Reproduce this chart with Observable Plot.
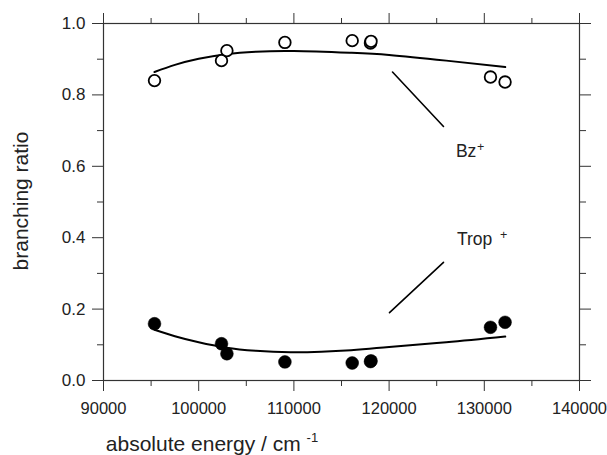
<!DOCTYPE html>
<html><head><meta charset="utf-8">
<script src="https://cdn.jsdelivr.net/npm/d3@7"></script>
<script src="https://cdn.jsdelivr.net/npm/@observablehq/plot@0.6"></script>
<style>
body{margin:0;background:#fff}
#chart svg{display:block}
</style>
</head><body><div id="chart"></div>
<script>
// measured points
const energy    = [95357, 102395, 102962, 109055, 116124, 118046, 118100, 130650, 132180];
const bzRatio   = [0.840, 0.896, 0.924, 0.947, 0.952, 0.945, 0.950, 0.850, 0.836];
const tropRatio = [0.159, 0.103, 0.075, 0.052, 0.049, 0.053, 0.055, 0.149, 0.163];

// fitted curves
const fitEnergy = [95357, 97500, 100000, 102900, 106000, 110000, 116000, 120000, 126000, 132200];
const bzFit     = [0.864, 0.884, 0.901, 0.914, 0.921, 0.923, 0.918, 0.912, 0.896, 0.878];
const tropFit   = [0.142, 0.124, 0.107, 0.092, 0.083, 0.079, 0.085, 0.094, 0.107, 0.123];

// annotation pointer lines
const pointerSeries = ["Bz", "Bz", "Trop", "Trop"];
const pointerX = [120357, 125714, 120042, 125714];
const pointerY = [0.864, 0.7115, 0.190, 0.331];

// annotation labels
const labelNames = ["Bz", "Trop"];
const labelX = [127017, 127122];
const labelY = [0.627, 0.380];
const labelPlusDx = [21, 43];

// ticks
const xMajor = [90000, 100000, 110000, 120000, 130000, 140000];
const xMinor = [95000, 105000, 115000, 125000, 135000];
const yMajor = [0, 0.2, 0.4, 0.6, 0.8, 1.0];
const yMinor = [0.1, 0.3, 0.5, 0.7, 0.9];

const points = energy.map((e, i) => ({e, bz: bzRatio[i], trop: tropRatio[i]}));
const fit = fitEnergy.map((e, i) => ({e, bz: bzFit[i], trop: tropFit[i]}));
const pointers = pointerX.map((x, i) => ({s: pointerSeries[i], x, y: pointerY[i]}));
const labels = labelNames.map((n, i) => ({n, x: labelX[i], y: labelY[i]}));

const axisColor = "#333";
const font = "'Liberation Sans', Arial, Helvetica, sans-serif";

const plot = Plot.plot({
  width: 607,
  height: 455,
  marginLeft: 103,
  marginRight: 28,
  marginTop: 23,
  marginBottom: 75,
  style: {fontFamily: font, color: "#222", background: "#fff"},
  x: {domain: [90000, 140000]},
  y: {domain: [0, 1]},
  marks: [
    Plot.axisX({ticks: xMajor, tickSize: 11, tickPadding: 11, fontSize: 16.5, tickFormat: d3.format("d"), label: null, stroke: axisColor}),
    Plot.axisX({ticks: xMinor, tickSize: 6, text: null, label: null, stroke: axisColor}),
    Plot.axisX({anchor: "top", ticks: xMajor, tickSize: 11, text: null, label: null, stroke: axisColor}),
    Plot.axisX({anchor: "top", ticks: xMinor, tickSize: 6, text: null, label: null, stroke: axisColor}),
    Plot.axisY({ticks: yMajor, tickSize: 11, tickPadding: 7, fontSize: 17, tickFormat: d3.format(".1f"), label: null, stroke: axisColor}),
    Plot.axisY({ticks: yMinor, tickSize: 6, text: null, label: null, stroke: axisColor}),
    Plot.axisY({anchor: "right", ticks: yMajor, tickSize: 11, text: null, label: null, stroke: axisColor}),
    Plot.axisY({anchor: "right", ticks: yMinor, tickSize: 6, text: null, label: null, stroke: axisColor}),
    Plot.frame({stroke: axisColor, strokeWidth: 1.2}),
    Plot.line(fit, {x: "e", y: "bz", curve: "natural", stroke: "#000", strokeWidth: 2}),
    Plot.line(fit, {x: "e", y: "trop", curve: "natural", stroke: "#000", strokeWidth: 2}),
    Plot.line(pointers, {x: "x", y: "y", z: "s", stroke: "#000", strokeWidth: 1.6}),
    Plot.dot(points, {x: "e", y: "bz", r: 5.8, fill: "#fff", stroke: "#000", strokeWidth: 1.8}),
    Plot.dot(points, {x: "e", y: "trop", r: 6.4, fill: "#000", stroke: "#000", strokeWidth: 0.5}),
    Plot.text(labels, {x: "x", y: "y", text: "n", textAnchor: "start", lineAnchor: "bottom", fontSize: 17.5, fill: "#222"}),
    Plot.text([labels[0]], {x: "x", y: "y", text: () => "+", textAnchor: "start", lineAnchor: "bottom", fontSize: 12.5, fill: "#222", dx: labelPlusDx[0], dy: -5.5}),
    Plot.text([labels[1]], {x: "x", y: "y", text: () => "+", textAnchor: "start", lineAnchor: "bottom", fontSize: 12.5, fill: "#222", dx: labelPlusDx[1], dy: -5.5})
  ]
});

const svg = d3.select(plot);
// x axis title
const xt = svg.append("text")
  .attr("x", 212).attr("y", 451)
  .attr("font-family", font).attr("font-size", 21).attr("fill", "#222");
xt.append("tspan").text("absolute energy / cm ");
xt.append("tspan").attr("font-size", 13).attr("dy", -9).text("-1");
// y axis title
svg.append("text")
  .attr("transform", "translate(28,201) rotate(-90)")
  .attr("text-anchor", "middle")
  .attr("font-family", font).attr("font-size", 21).attr("fill", "#222")
  .text("branching ratio");

document.getElementById("chart").append(plot);
</script>
</body></html>
